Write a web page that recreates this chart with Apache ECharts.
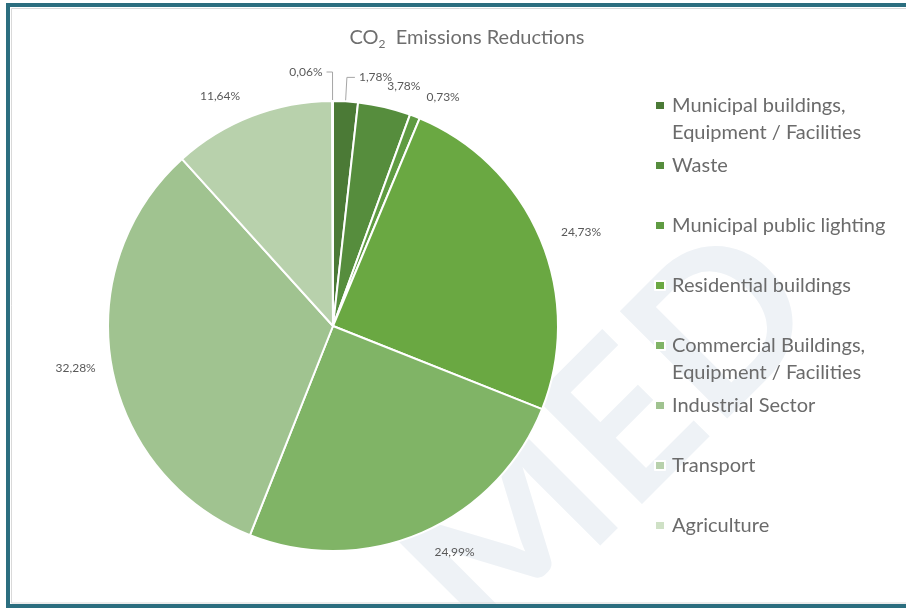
<!DOCTYPE html>
<html>
<head>
<meta charset="utf-8">
<title>CO2 Emissions Reductions</title>
<script src="https://cdn.jsdelivr.net/npm/echarts@6/dist/echarts.min.js"></script>
<style>
  html, body { margin: 0; padding: 0; background: #ffffff; }
  #chart { width: 906px; height: 608px; }
</style>
</head>
<body>
<div id="chart"></div>
<script>
// Sectors, in legend / clockwise order starting at 12 o'clock
const categories = [
  'Municipal buildings,\nEquipment / Facilities',
  'Waste',
  'Municipal public lighting',
  'Residential buildings',
  'Commercial Buildings,\nEquipment / Facilities',
  'Industrial Sector',
  'Transport',
  'Agriculture'
];

// Share of the total CO2 reduction, in percent
const shares = [1.78, 3.78, 0.73, 24.73, 24.99, 32.28, 11.64, 0.06];

// Slice colours, darkest to lightest green
const sliceColors = ['#4b7a36', '#568d3d', '#5f9b42', '#6aa842', '#80b466', '#a0c390', '#b8d1ac', '#cfe1c6'];

// Leader geometry for each data label (radial length, horizontal length, line visible)
const leaderStyle = [
  { len: 24, len2: 8, show: true },
  { len: 21, len2: 0, show: false },
  { len: 21, len2: 0, show: false },
  { len: 18, len2: 0, show: false },
  { len: 21, len2: 0, show: false },
  { len: 10, len2: 2, show: false },
  { len: 21, len2: 0, show: false },
  { len: 29, len2: 6, show: true }
];

const fmtPct = v => v.toFixed(2).replace('.', ',') + '%';

const chart = echarts.init(document.getElementById('chart'), null, { renderer: 'canvas' });

const pieData = categories.map((name, i) => ({
  name: name,
  value: shares[i],
  itemStyle: { color: sliceColors[i] },
  labelLine: {
    show: leaderStyle[i].show,
    length: leaderStyle[i].len,
    length2: leaderStyle[i].len2
  }
}));

const isTwoLine = name => name.indexOf('\n') >= 0;

const legendData = categories.map(name => ({
  name: name,
  textStyle: {
    // every entry gets the same block height so the keys are evenly spaced
    padding: isTwoLine(name) ? [0, 0, 0, 2] : [27, 0, 27, 2]
  }
}));

chart.setOption({
  animation: false,
  backgroundColor: '#ffffff',
  title: {
    text: '{a|CO}{s|2}{a|  Emissions Reductions}',
    left: 462,
    top: 20,
    textAlign: 'center',
    textStyle: {
      fontWeight: 'normal',
      rich: {
        a: { fontFamily: 'Lato', fontSize: 20, fontWeight: 'normal', color: '#6e6e6e', lineHeight: 26 },
        s: { fontFamily: 'Lato', fontSize: 12, fontWeight: 'normal', color: '#6e6e6e', lineHeight: 26, padding: [12, 0, 0, 0] }
      }
    }
  },
  legend: {
    orient: 'vertical',
    left: 649,
    top: 60,
    itemWidth: 10,
    itemHeight: 9,
    itemGap: -21,
    icon: 'rect',
    selectedMode: false,
    data: legendData,
    // a blank first line keeps the first text line level with the colour key
    formatter: name => isTwoLine(name) ? ' \n' + name : name,
    textStyle: {
      fontFamily: 'Lato',
      fontSize: 20,
      color: '#6b6b6b',
      lineHeight: 27
    }
  },
  graphic: [
    {
      // faint "MED" watermark behind the chart
      type: 'text',
      z: -10,
      x: 611,
      y: 439,
      rotation: Math.PI / 4,
      style: {
        text: 'MED',
        font: 'bold 210px Lato',
        fill: '#eef2f6',
        textAlign: 'center',
        textVerticalAlign: 'middle'
      },
      silent: true
    },
    {
      type: 'rect',
      z: 100,
      shape: { x: 11.5, y: 8.5, width: 900, height: 594.5 },
      style: { fill: 'none', stroke: '#d9d9d9', lineWidth: 1 },
      silent: true
    },
    {
      type: 'rect',
      z: 101,
      shape: { x: 8, y: 5, width: 906, height: 601 },
      style: { fill: 'none', stroke: '#2b6e7f', lineWidth: 4 },
      silent: true
    }
  ],
  series: [
    {
      type: 'pie',
      center: [333, 326],
      radius: 225,
      startAngle: 90,
      clockwise: true,
      avoidLabelOverlap: false,
      itemStyle: { borderColor: '#ffffff', borderWidth: 2 },
      label: {
        show: true,
        position: 'outside',
        formatter: p => fmtPct(p.value),
        fontFamily: 'Lato',
        fontSize: 12,
        color: '#595959',
        distanceToLabelLine: 4
      },
      labelLine: {
        lineStyle: { color: '#a6a6a6', width: 1 }
      },
      // pull the crowded "Waste" label slightly towards the top of the pie
      labelLayout: p => (p.dataIndex === 1 ? { dx: -6 } : {}),
      emphasis: { disabled: true },
      data: pieData
    }
  ]
});
</script>
</body>
</html>
